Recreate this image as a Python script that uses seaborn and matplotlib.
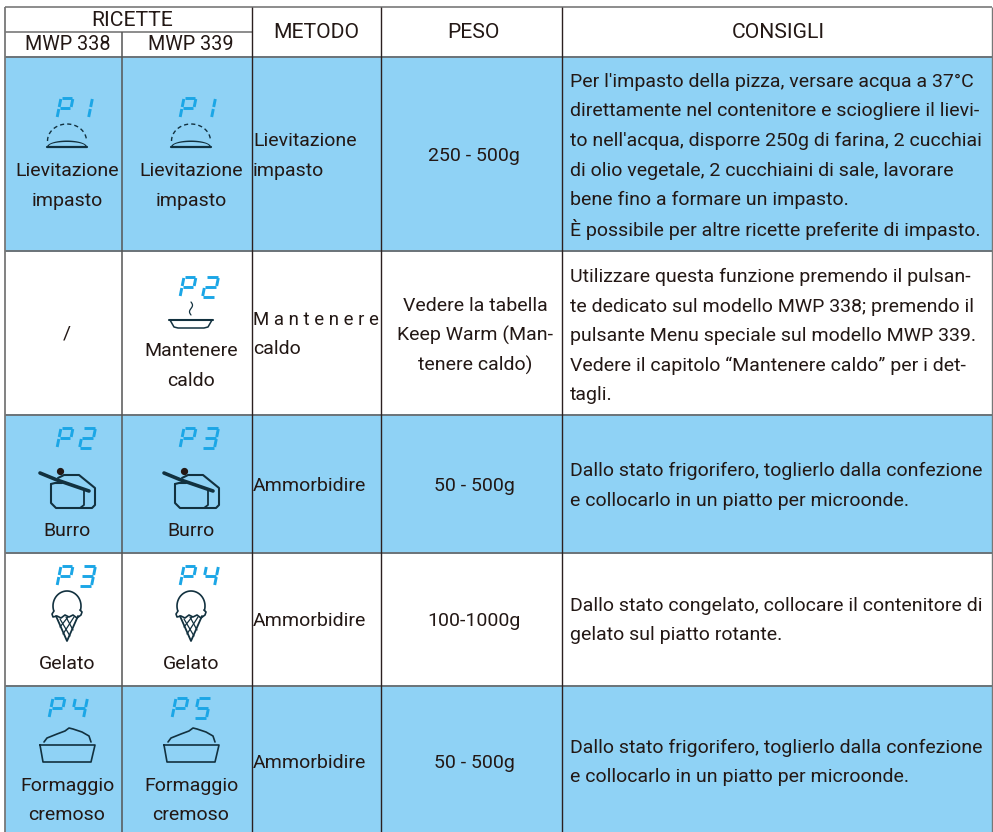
import numpy as np
import matplotlib
matplotlib.use('Agg')
import matplotlib.pyplot as plt
from matplotlib.colors import ListedColormap
import seaborn as sns

W, H = 993, 832
row_edges = [0, 57, 251, 415, 553, 686, 832]
row_shade = [0, 1, 0, 1, 0, 1]
col_x = [5, 122, 252, 381, 562, 992]

ricette = 'RICETTE'
modelli = ['MWP 338', 'MWP 339']
headers = ['METODO', 'PESO', 'CONSIGLI']
nomi_338 = [['Lievitazione', 'impasto'], ['/'], ['Burro'], ['Gelato'], ['Formaggio', 'cremoso']]
nomi_339 = [['Lievitazione', 'impasto'], ['Mantenere', 'caldo'], ['Burro'], ['Gelato'], ['Formaggio', 'cremoso']]
display_338 = ['P1', '', 'P2', 'P3', 'P4']
display_339 = ['P1', 'P2', 'P3', 'P4', 'P5']
metodo = [['Lievitazione', 'impasto'], ['M a n t e n e r e', 'caldo'], ['Ammorbidire'], ['Ammorbidire'], ['Ammorbidire']]
peso = [['250 - 500g'], ['Vedere la tabella', 'Keep Warm (Man-', 'tenere caldo)'], ['50 - 500g'], ['100-1000g'], ['50 - 500g']]
consigli = [
    ["Per l'impasto della pizza, versare acqua a 37°C", 'direttamente nel contenitore e sciogliere il lievi-',
     "to nell'acqua, disporre 250g di farina, 2 cucchiai", 'di olio vegetale, 2 cucchiaini di sale, lavorare',
     'bene fino a formare un impasto.', 'È possibile per altre ricette preferite di impasto.'],
    ['Utilizzare questa funzione premendo il pulsan-', 'te dedicato sul modello MWP 338; premendo il',
     'pulsante Menu speciale sul modello MWP 339.', 'Vedere il capitolo “Mantenere caldo” per i det-', 'tagli.'],
    ['Dallo stato frigorifero, toglierlo dalla confezione', 'e collocarlo in un piatto per microonde.'],
    ['Dallo stato congelato, collocare il contenitore di', 'gelato sul piatto rotante.'],
    ['Dallo stato frigorifero, toglierlo dalla confezione', 'e collocarlo in un piatto per microonde.'],
]

# first line centre of each text block, by row
y_nomi = [171, 351, 531, 664, 786]
y_metodo = [141, 320, 486, 621, 763]
y_peso = [156, 306, 486, 621, 763]
y_consigli = [82, 277, 471, 606, 748]
y_display = [98, 277, 428, 566, 698]
LINE = 29.5

BLUE = '#8fd2f5'
INK = '#231815'
SEG = '#1ba6e6'
DARK = '#12313f'
FS = 14.0

sns.set_theme(style='white')
plt.rcParams['font.family'] = ['Roboto', 'Liberation Sans', 'DejaVu Sans']

fig = plt.figure(figsize=(W / 100, H / 100), dpi=100)

# row bands as a heatmap, one matrix row per pixel row
bg = fig.add_axes([col_x[0] / W, 0, (col_x[-1] - col_x[0]) / W, 1])
bands = np.repeat(np.array(row_shade), np.diff(row_edges))[:, None]
sns.heatmap(bands, ax=bg, cmap=ListedColormap(['white', BLUE]), cbar=False,
            xticklabels=False, yticklabels=False, vmin=0, vmax=1)
bg.axis('off')

# everything else goes on a transparent layer in pixel coordinates
ax = fig.add_axes([0, 0, 1, 1])
ax.patch.set_alpha(0)
ax.set_xlim(0, W)
ax.set_ylim(H, 0)


def txt(x, y, s, ha='center', fs=FS):
    ax.text(x, y, s, ha=ha, va='center', fontsize=fs, color=INK)


def block(x, y, lines, ha='center'):
    for i, s in enumerate(lines):
        # the letterspaced line has to stay inside its cell
        txt(x, y + i * LINE, s, ha, FS - 0.6 if s.startswith('M a') else FS)


SEGS = {'P': 'abefg', '1': 'bc', '2': 'abdeg', '3': 'abcdg', '4': 'bcfg', '5': 'acdfg'}


def seg_display(x, y, label):
    w, h, sk = 12.0, 20.0, 4.0
    for n, ch in enumerate(label):
        x0 = x + n * 22.5
        if ch == '1':
            x0 -= 3

        def pt(u, v):
            return x0 + u * w + (1 - v) * sk, y + v * h
        parts = {'a': ((0.08, 0), (0.92, 0)), 'b': ((1, 0.05), (1, 0.45)), 'c': ((1, 0.55), (1, 0.95)),
                 'd': ((0.08, 1), (0.92, 1)), 'e': ((0, 0.55), (0, 0.95)), 'f': ((0, 0.05), (0, 0.45)),
                 'g': ((0.08, 0.5), (0.92, 0.5))}
        for key in SEGS[ch]:
            a, b = parts[key]
            pa, pb = pt(*a), pt(*b)
            ax.plot([pa[0], pb[0]], [pa[1], pb[1]], color=SEG, lw=2.1, solid_capstyle='butt')


def curve(x0, y0, points, lw=1.2, **kw):
    pts = np.array(points, float)
    ax.plot(x0 + pts[:, 0], y0 + pts[:, 1], color=DARK, lw=lw, solid_joinstyle='round', **kw)


def ico_dough(cx):
    t = np.linspace(np.pi, 0, 30)
    ax.plot(cx + 19.5 * np.cos(t), 141 - 17 * np.sin(t), color=DARK, lw=1.0, ls=(0, (3, 2.2)))
    ax.fill(cx + 20 * np.cos(t), 147 - 6.5 * np.sin(t), color=DARK, lw=0, zorder=3)
    ax.fill(cx + 18 * np.cos(t), 146 - 4 * np.sin(t), color=BLUE, lw=0, zorder=3)
    ax.plot([cx - 20, cx + 20], [147, 147], color=DARK, lw=1.6, zorder=4)


def ico_plate(cx):
    curve(cx, 0, [[-22, 319.5], [22, 319.5]], lw=1.5)
    curve(cx, 0, [[-21, 320], [-17, 327], [-13, 328], [13, 328], [17, 327], [21, 320]], lw=1.1)
    t = np.linspace(0, 1, 20)
    ax.plot(cx + 1.5 * np.sin(t * 2 * np.pi), 302 + 13 * t, color=DARK, lw=0.9)


def ico_butter(cx):
    # rounded box, lid corner, knife across the top
    curve(cx, 0, [[-16, 484], [-16, 503], [-11, 508], [25, 508], [28, 505], [28, 488], [12, 475], [-3, 475], [-9, 478]], lw=1.5)
    curve(cx, 0, [[-16, 484], [-12, 483], [-5, 483]], lw=1.5)
    curve(cx, 0, [[17, 490], [17, 505], [13, 508]], lw=1.3)
    curve(cx, 0, [[-27, 473], [-10, 480], [22, 491]], lw=2.6)
    ax.plot(cx - 7, 471, 'o', color=INK, ms=4.2)


def ico_gelato(cx):
    t = np.linspace(-0.3, np.pi + 0.3, 40)
    ax.plot(cx + 14 * np.cos(t), 606 - 15 * np.sin(t), color=DARK, lw=1.2)
    curve(cx, 0, [[-13, 611], [-15, 614], [-14, 617], [-10, 616], [-6, 618], [-2, 615], [2, 617], [6, 615], [10, 618], [14, 615], [15, 612], [13, 610]])
    curve(cx, 0, [[-11, 616], [0, 641], [11, 616]], lw=1.3)
    curve(cx, 0, [[-7, 619], [3, 636]], lw=0.9)
    curve(cx, 0, [[-1, 617], [6, 630]], lw=0.9)
    curve(cx, 0, [[7, 617], [-4, 634]], lw=0.9)
    curve(cx, 0, [[1, 617], [-7, 627]], lw=0.9)


def ico_cheese(cx):
    curve(cx, 0, [[-27, 745], [28, 745], [24, 762], [-24, 762], [-27, 745]], lw=1.2)
    curve(cx, 0, [[-23, 742], [-20, 738], [-10, 734], [-2, 731], [2, 728], [6, 729], [15, 732], [22, 736], [24, 742]], lw=1.2)


icons = [ico_dough, ico_plate, ico_butter, ico_gelato, ico_cheese]
cx_338, cx_339 = 67, 191

for i in range(5):
    block(cx_338, y_nomi[i] if nomi_338[i] != ['/'] else 334, nomi_338[i])
    block(cx_339, y_nomi[i], nomi_339[i])
    # P4 row starts further left than the others
    off = -8 if i == 4 else 0
    if display_338[i]:
        seg_display(cx_338 - 10 + off, y_display[i], display_338[i])
        icons[i](cx_338)
    seg_display(cx_339 - 11 + off, y_display[i], display_339[i])
    icons[i](cx_339)
    block(col_x[2] + 1, y_metodo[i], metodo[i], 'left')
    block(474 if i != 1 else 475, y_peso[i], peso[i])
    block(570, y_consigli[i], consigli[i], 'left')

# header
txt(132, 21, ricette, fs=15.2)
txt(cx_338 + 1, 45, modelli[0], fs=14.2)
txt(cx_339, 45, modelli[1], fs=14.2)
txt(316, 33, headers[0], fs=15.2)
txt(473, 33, headers[1], fs=15.2)
txt(778, 33, headers[2], fs=15.2)

# grid
ax.hlines([7, 32], [col_x[0], col_x[0]], [col_x[-1], col_x[2]], color='#6d6d6d', lw=1.1)
ax.hlines(row_edges[1:-1], col_x[0], col_x[-1], color='#6a7378', lw=1.4)
ax.vlines(col_x[0], 7, H, color='#777777', lw=1.3)
ax.vlines(col_x[1], 32, H, color='#555555', lw=1.1)
ax.vlines(col_x[2:5], 7, H, color='#2b2020', lw=1.0)
ax.vlines(col_x[5], 7, H, color='#777777', lw=1.0)

ax.axis('off')
fig.savefig('out.png', dpi=100, facecolor='white')
